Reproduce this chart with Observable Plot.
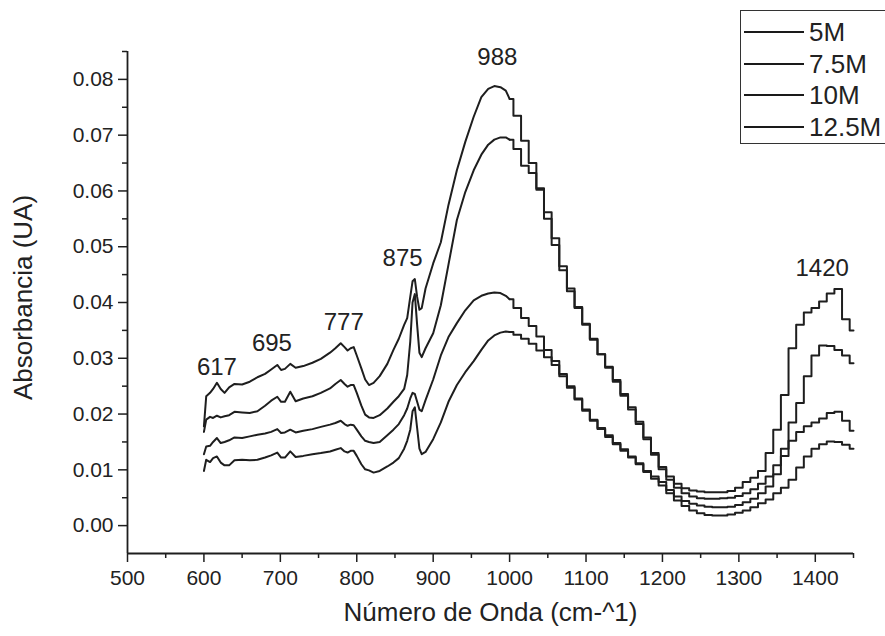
<!DOCTYPE html>
<html><head><meta charset="utf-8">
<script src="https://cdn.jsdelivr.net/npm/d3@7"></script>
<script src="https://cdn.jsdelivr.net/npm/@observablehq/plot@0.6"></script>
<style>
body{margin:0;background:#fff;font-family:"Liberation Sans",Arial,sans-serif;}
#wrap{position:relative;width:885px;height:636px;overflow:hidden;}
#legend{position:absolute;left:740px;top:10px;width:170px;height:134px;border:1.5px solid #333;box-sizing:border-box;background:#fff;}
.row{position:absolute;left:0;height:30px;display:flex;align-items:center;}
.sw{width:60px;height:0;border-top:2px solid #1a1a1a;margin-left:3px;margin-right:5px;}
.lab{font-size:26px;color:#222;line-height:30px;}
</style></head><body><div id="wrap"><div id="legend"></div></div>
<script>
const series = ["5M", "7.5M", "10M", "12.5M"];

const waveLeft = [600,603,608,612,617,622,627,633,640,650,660,670,680,688,696,701,706,713,720,730,742,753,765,772,779,784,788,792,796,800,806,811,816,822,830,840,848,855,862,866,870,873,876,879,882,885,890,900,910,920,931,942,953,963,972,980,988,995,1000];
const left5M = [0.0178,0.0232,0.0238,0.0245,0.0256,0.0245,0.0238,0.0248,0.0254,0.0253,0.0258,0.0266,0.0272,0.028,0.0288,0.0279,0.0281,0.029,0.0283,0.0286,0.0292,0.0299,0.031,0.0318,0.0327,0.032,0.0314,0.0318,0.032,0.0305,0.0282,0.0262,0.0252,0.0256,0.0268,0.029,0.0315,0.0335,0.036,0.0372,0.041,0.0438,0.0442,0.041,0.0387,0.039,0.0425,0.047,0.0508,0.0575,0.0637,0.0688,0.0733,0.0768,0.0783,0.0788,0.0786,0.078,0.0765];
const left75M = [0.0168,0.019,0.0195,0.0193,0.0197,0.0194,0.0196,0.0198,0.0204,0.0203,0.0202,0.0205,0.0215,0.0224,0.0231,0.0222,0.0222,0.024,0.0223,0.0228,0.0232,0.0238,0.0246,0.0254,0.0261,0.0254,0.0249,0.0252,0.0252,0.0238,0.0215,0.0199,0.0194,0.0193,0.0198,0.021,0.0222,0.0232,0.0245,0.027,0.033,0.040,0.0415,0.036,0.031,0.0302,0.0318,0.0345,0.0395,0.0468,0.0548,0.0598,0.0637,0.0665,0.0683,0.0692,0.0696,0.0696,0.0692];
const left10M = [0.0128,0.0142,0.0143,0.015,0.0157,0.0148,0.015,0.0153,0.0158,0.0157,0.016,0.0163,0.0165,0.0168,0.0173,0.0166,0.0167,0.0172,0.0167,0.017,0.0173,0.0177,0.0181,0.0184,0.0188,0.0182,0.0179,0.0181,0.018,0.0172,0.016,0.0152,0.015,0.0148,0.015,0.0162,0.0172,0.0182,0.0198,0.021,0.0228,0.0238,0.0236,0.0222,0.0208,0.0205,0.0225,0.0262,0.0305,0.0338,0.0363,0.0386,0.0404,0.0412,0.0416,0.0418,0.0417,0.0412,0.0406];
const left125M = [0.0098,0.0118,0.0114,0.0121,0.0124,0.0113,0.0108,0.0108,0.0117,0.0118,0.0117,0.0118,0.0122,0.0126,0.0131,0.0122,0.0122,0.0133,0.0123,0.0125,0.0128,0.013,0.0133,0.0136,0.0139,0.0133,0.0131,0.0134,0.0134,0.0125,0.011,0.0101,0.0099,0.0095,0.0098,0.0106,0.0113,0.0121,0.0138,0.0152,0.0172,0.0205,0.0212,0.0175,0.0138,0.0128,0.0132,0.0155,0.0185,0.0222,0.0252,0.0275,0.0295,0.0315,0.0332,0.0341,0.0346,0.0348,0.0347];

const waveRight = [1000,1010,1020,1030,1040,1050,1060,1070,1080,1090,1100,1110,1120,1130,1140,1150,1160,1170,1180,1190,1200,1210,1220,1230,1240,1250,1260,1270,1280,1290,1300,1310,1320,1330,1340,1350,1360,1370,1380,1390,1400,1410,1420,1430,1440,1450];
const right5M = [0.0765,0.0735,0.069,0.065,0.0605,0.055,0.0503,0.0458,0.042,0.039,0.036,0.0333,0.0307,0.0285,0.0261,0.0236,0.0212,0.0186,0.0158,0.013,0.0105,0.0088,0.0075,0.0067,0.0063,0.0061,0.006,0.006,0.006,0.0062,0.0068,0.0078,0.0086,0.0098,0.013,0.0172,0.0234,0.0318,0.036,0.0382,0.039,0.0402,0.0416,0.0424,0.037,0.035];
const right75M = [0.0692,0.0675,0.0645,0.0632,0.0602,0.0562,0.0515,0.0465,0.0425,0.0392,0.0362,0.0335,0.0307,0.0283,0.0258,0.0233,0.0208,0.0182,0.0155,0.0127,0.0101,0.0082,0.0068,0.0058,0.0052,0.0049,0.0048,0.0048,0.0049,0.005,0.0053,0.0058,0.0065,0.0075,0.0088,0.0108,0.0138,0.0185,0.022,0.0268,0.0305,0.0323,0.0322,0.0315,0.0305,0.0291];
const right10M = [0.0406,0.039,0.0372,0.0358,0.0339,0.0315,0.0295,0.0272,0.025,0.0228,0.0208,0.019,0.0175,0.0162,0.0148,0.0137,0.0124,0.0112,0.0098,0.0088,0.0078,0.0064,0.0052,0.0044,0.0039,0.0036,0.0034,0.0033,0.0033,0.0034,0.0037,0.0042,0.0048,0.0058,0.007,0.0092,0.0125,0.0152,0.0168,0.0178,0.0185,0.0192,0.0202,0.0204,0.0188,0.017];
const right125M = [0.0347,0.0342,0.0335,0.0326,0.0314,0.0302,0.0288,0.0268,0.0247,0.0226,0.0206,0.0188,0.0173,0.0159,0.0146,0.0134,0.0122,0.011,0.0096,0.0084,0.0072,0.0058,0.0045,0.0035,0.0027,0.0022,0.0019,0.0018,0.0018,0.002,0.0023,0.0027,0.0033,0.004,0.0047,0.0058,0.0068,0.0082,0.0104,0.0124,0.0138,0.0146,0.0151,0.015,0.0145,0.0138];

const xTicks = [500,600,700,800,900,1000,1100,1200,1300,1400];
const xMinorTicks = [550,650,750,850,950,1050,1150,1250,1350,1450];
const yTicks = [0,0.01,0.02,0.03,0.04,0.05,0.06,0.07,0.08];
const yMinorTicks = [0.005,0.015,0.025,0.035,0.045,0.055,0.065,0.075,0.085];

const peakLabels = ["617","695","777","875","988","1420"];
const peakLabelX = [617,689,783,860,984,1409];
const peakLabelY = [0.0283,0.0327,0.0365,0.048,0.084,0.0462];

const xTitle = "Número de Onda (cm-^1)";
const yTitle = "Absorbancia (UA)";

const leftVals = [left5M, left75M, left10M, left125M];
const rightVals = [right5M, right75M, right10M, right125M];
const rowsLeft = series.flatMap((s, i) => waveLeft.map((w, j) => ({series: s, wave: w, abs: leftVals[i][j]})));
const rowsRight = series.flatMap((s, i) => waveRight.map((w, j) => ({series: s, wave: w, abs: rightVals[i][j]})));
const peaks = peakLabels.map((t, i) => ({t, x: peakLabelX[i], y: peakLabelY[i]}));

const ink = "#1e1e1e";
const chart = Plot.plot({
  width: 885, height: 636,
  marginLeft: 127, marginRight: 32, marginTop: 51, marginBottom: 83,
  style: {fontFamily: "'Liberation Sans', Arial, sans-serif", fontSize: "21px", color: "#222", background: "transparent"},
  x: {domain: [500, 1450]},
  y: {domain: [-0.005, 0.085]},
  marks: [
    Plot.line(rowsLeft, {x: "wave", y: "abs", z: "series", stroke: ink, strokeWidth: 2, curve: "linear"}),
    Plot.line(rowsRight, {x: "wave", y: "abs", z: "series", stroke: ink, strokeWidth: 2, curve: "step"}),
    Plot.axisY(yTicks, {tickSize: 9, tickPadding: 5, tickFormat: d3.format(".2f"), fontSize: 21, stroke: ink, strokeWidth: 1.5, label: null}),
    Plot.axisY(yMinorTicks, {tickSize: 5, tickFormat: () => "", stroke: ink, strokeWidth: 1.5, label: null}),
    Plot.axisX(xTicks, {tickSize: 9, tickPadding: 8, tickFormat: d => String(d), fontSize: 21, stroke: ink, strokeWidth: 1.5, label: null}),
    Plot.axisX(xMinorTicks, {tickSize: 5, tickFormat: () => "", stroke: ink, strokeWidth: 1.5, label: null}),
    Plot.ruleX([500], {stroke: ink, strokeWidth: 1.8}),
    Plot.ruleY([-0.005], {stroke: ink, strokeWidth: 1.8}),
    Plot.text(peaks, {x: "x", y: "y", text: "t", fontSize: 24, fill: "#222"}),
    Plot.text([yTitle], {frameAnchor: "left", textAnchor: "middle", lineAnchor: "middle", dx: -104, dy: -5, rotate: -90, fontSize: 26, fill: "#222"}),
    Plot.text([xTitle], {frameAnchor: "bottom", textAnchor: "middle", lineAnchor: "middle", dy: 59, fontSize: 26, fill: "#222"})
  ]
});
document.getElementById("wrap").prepend(chart);

const legend = document.getElementById("legend");
series.forEach((s, i) => {
  const row = document.createElement("div");
  row.className = "row";
  row.style.top = (6 + i * 31.5) + "px";
  row.innerHTML = `<div class="sw"></div><span class="lab">${s}</span>`;
  legend.appendChild(row);
});
</script>
</body></html>
